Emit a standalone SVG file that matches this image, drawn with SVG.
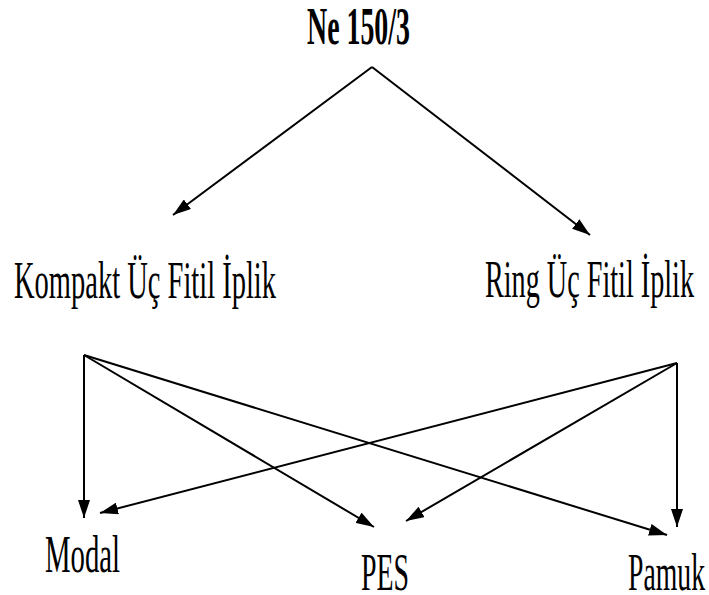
<svg xmlns="http://www.w3.org/2000/svg" width="709" height="595" viewBox="0 0 709 595">
<style>
text{font-family:"Liberation Serif","Times New Roman",serif;fill:#000;font-size:52px}
.b{font-weight:bold}
.c line{stroke:#000;stroke-width:2;fill:none;marker-end:url(#ah)}
</style>
<defs>
<marker id="ah" markerUnits="userSpaceOnUse" viewBox="0 0 18 12" refX="18" refY="6" markerWidth="18" markerHeight="12" orient="auto">
<path d="M0,0 L18,6 L0,12 Z" fill="#000"/>
</marker>
</defs>
<g id="n-top"><text class="b" x="307" y="44" textLength="103" lengthAdjust="spacingAndGlyphs">Ne 150/3</text></g>
<g id="n-kompakt"><text x="14" y="298" textLength="262" lengthAdjust="spacingAndGlyphs">Kompakt Üç Fitil İplik</text></g>
<g id="n-ring"><text x="485" y="297" textLength="209" lengthAdjust="spacingAndGlyphs">Ring Üç Fitil İplik</text></g>
<g id="n-modal"><text x="45" y="572" textLength="75" lengthAdjust="spacingAndGlyphs">Modal</text></g>
<g id="n-pes"><text x="361" y="590" textLength="48" lengthAdjust="spacingAndGlyphs">PES</text></g>
<g id="n-pamuk"><text x="628" y="590" textLength="77" lengthAdjust="spacingAndGlyphs">Pamuk</text></g>
<g id="connectors" class="c">
<line x1="372" y1="67" x2="173" y2="215"/>
<line x1="372" y1="67" x2="590" y2="235"/>
<line x1="84" y1="355" x2="84" y2="518"/>
<line x1="84" y1="355" x2="374" y2="527"/>
<line x1="84" y1="355" x2="667" y2="535"/>
<line x1="677" y1="363" x2="100" y2="513"/>
<line x1="677" y1="363" x2="406" y2="521"/>
<line x1="677" y1="363" x2="677" y2="527"/>
</g>
</svg>
